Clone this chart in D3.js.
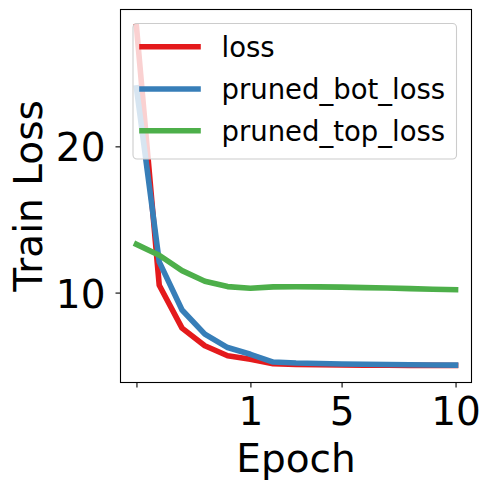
<!DOCTYPE html>
<html>
<head>
<meta charset="utf-8">
<script src="https://cdn.jsdelivr.net/npm/d3@7"></script>
<style>
  body { margin: 0; background: #fff; }
  text { font-family: "DejaVu Sans", sans-serif; fill: #000; }
</style>
</head>
<body>
<div id="chart"></div>
<script>
// data (x = step index 0..14)
var seriesNames = ["loss", "pruned_bot_loss", "pruned_top_loss"];
var loss = [28.2, 10.5, 7.57, 6.36, 5.68, 5.44, 5.13, 5.08, 5.06, 5.05, 5.04, 5.03, 5.02, 5.02, 5.01];
var prunedBot = [24.0, 12.1, 8.81, 7.16, 6.24, 5.78, 5.25, 5.18, 5.15, 5.12, 5.1, 5.08, 5.06, 5.05, 5.04];
var prunedTop = [13.3, 12.55, 11.5, 10.78, 10.41, 10.3, 10.39, 10.4, 10.39, 10.37, 10.34, 10.31, 10.27, 10.23, 10.2];
var xTickIdx = [0, 5, 9, 14];
var xTickLabels = ["", "1", "5", "10"];
var yTicks = [10, 20];
var colors = ["#e41a1c", "#377eb8", "#4daf4a"];

var width = 491;
var height = 491;
// plot frame (window.top is reserved, so prefix these)
var plotLeft = 120.5, plotRight = 471.5, plotTop = 9.5, plotBottom = 382.5;

var svg = d3.select("#chart")
  .append("svg")
  .attr("width", width)
  .attr("height", height);

var allSeries = [loss, prunedBot, prunedTop];

// matplotlib-like 5% margins
var n = loss.length;
var xScale = d3.scaleLinear()
  .domain([-0.05 * (n - 1), (n - 1) * 1.05])
  .range([plotLeft, plotRight]);

var yMin = d3.min(allSeries, function(s) { return d3.min(s); });
var yMax = d3.max(allSeries, function(s) { return d3.max(s); });
var pad = (yMax - yMin) * 0.05;
var yScale = d3.scaleLinear()
  .domain([yMin - pad, yMax + pad])
  .range([plotBottom, plotTop]);

// axes
var xAxis = d3.axisBottom(xScale)
  .tickValues(xTickIdx)
  .tickFormat(function(d, i) { return xTickLabels[i]; })
  .tickSize(5)
  .tickPadding(6);

var gx = svg.append("g")
  .attr("class", "xAxis")
  .attr("transform", "translate(0," + plotBottom + ")")
  .call(xAxis);
gx.select(".domain").remove();
gx.selectAll("line").attr("stroke", "#000").attr("stroke-width", 1.1);
gx.selectAll("text")
  .attr("font-size", 39)
  .attr("font-family", "DejaVu Sans")
  .attr("fill", "#000")
  .attr("dy", null)
  .attr("y", 42.5);

var yAxis = d3.axisLeft(yScale)
  .tickValues(yTicks)
  .tickSize(5)
  .tickPadding(10);

var gy = svg.append("g")
  .attr("class", "yAxis")
  .attr("transform", "translate(" + plotLeft + ",0)")
  .call(yAxis);
gy.select(".domain").remove();
gy.selectAll("line").attr("stroke", "#000").attr("stroke-width", 1.1);
gy.selectAll("text")
  .attr("font-size", 39)
  .attr("font-family", "DejaVu Sans")
  .attr("fill", "#000")
  .attr("dy", null)
  .attr("y", 14.5);

// lines
var line = d3.line()
  .x(function(d, i) { return xScale(i); })
  .y(function(d) { return yScale(d); });

svg.selectAll("path.series")
  .data(allSeries)
  .enter()
  .append("path")
  .attr("class", "series")
  .attr("d", line)
  .attr("fill", "none")
  .attr("stroke", function(d, i) { return colors[i]; })
  .attr("stroke-width", 5.6)
  .attr("stroke-linejoin", "round")
  .attr("stroke-linecap", "square");

// frame
svg.append("rect")
  .attr("x", plotLeft)
  .attr("y", plotTop)
  .attr("width", plotRight - plotLeft)
  .attr("height", plotBottom - plotTop)
  .attr("fill", "none")
  .attr("stroke", "#000")
  .attr("stroke-width", 1.1);

// legend
var legend = svg.append("g").attr("class", "legend");
legend.append("rect")
  .attr("x", 133)
  .attr("y", 23.5)
  .attr("width", 323.5)
  .attr("height", 135.5)
  .attr("rx", 4)
  .attr("fill", "#fff")
  .attr("fill-opacity", 0.8)
  .attr("stroke", "#cccccc")
  .attr("stroke-width", 1.1);

var legendY = [46.7, 89, 130.7];
var items = legend.selectAll("g.item")
  .data(seriesNames)
  .enter()
  .append("g")
  .attr("class", "item")
  .attr("transform", function(d, i) { return "translate(0," + legendY[i] + ")"; });

items.append("line")
  .attr("x1", 142)
  .attr("x2", 198)
  .attr("stroke", function(d, i) { return colors[i]; })
  .attr("stroke-width", 5.6)
  .attr("stroke-linecap", "square");

items.append("text")
  .attr("x", 221.5)
  .attr("y", 10)
  .attr("font-size", 27.5)
  .text(function(d) { return d; });

// axis labels
svg.append("text")
  .attr("x", (plotLeft + plotRight) / 2)
  .attr("y", 472)
  .attr("text-anchor", "middle")
  .attr("font-size", 39)
  .text("Epoch");

svg.append("text")
  .attr("transform", "translate(42," + ((plotTop + plotBottom) / 2) + ")rotate(-90)")
  .attr("text-anchor", "middle")
  .attr("font-size", 39)
  .text("Train Loss");
</script>
</body>
</html>
